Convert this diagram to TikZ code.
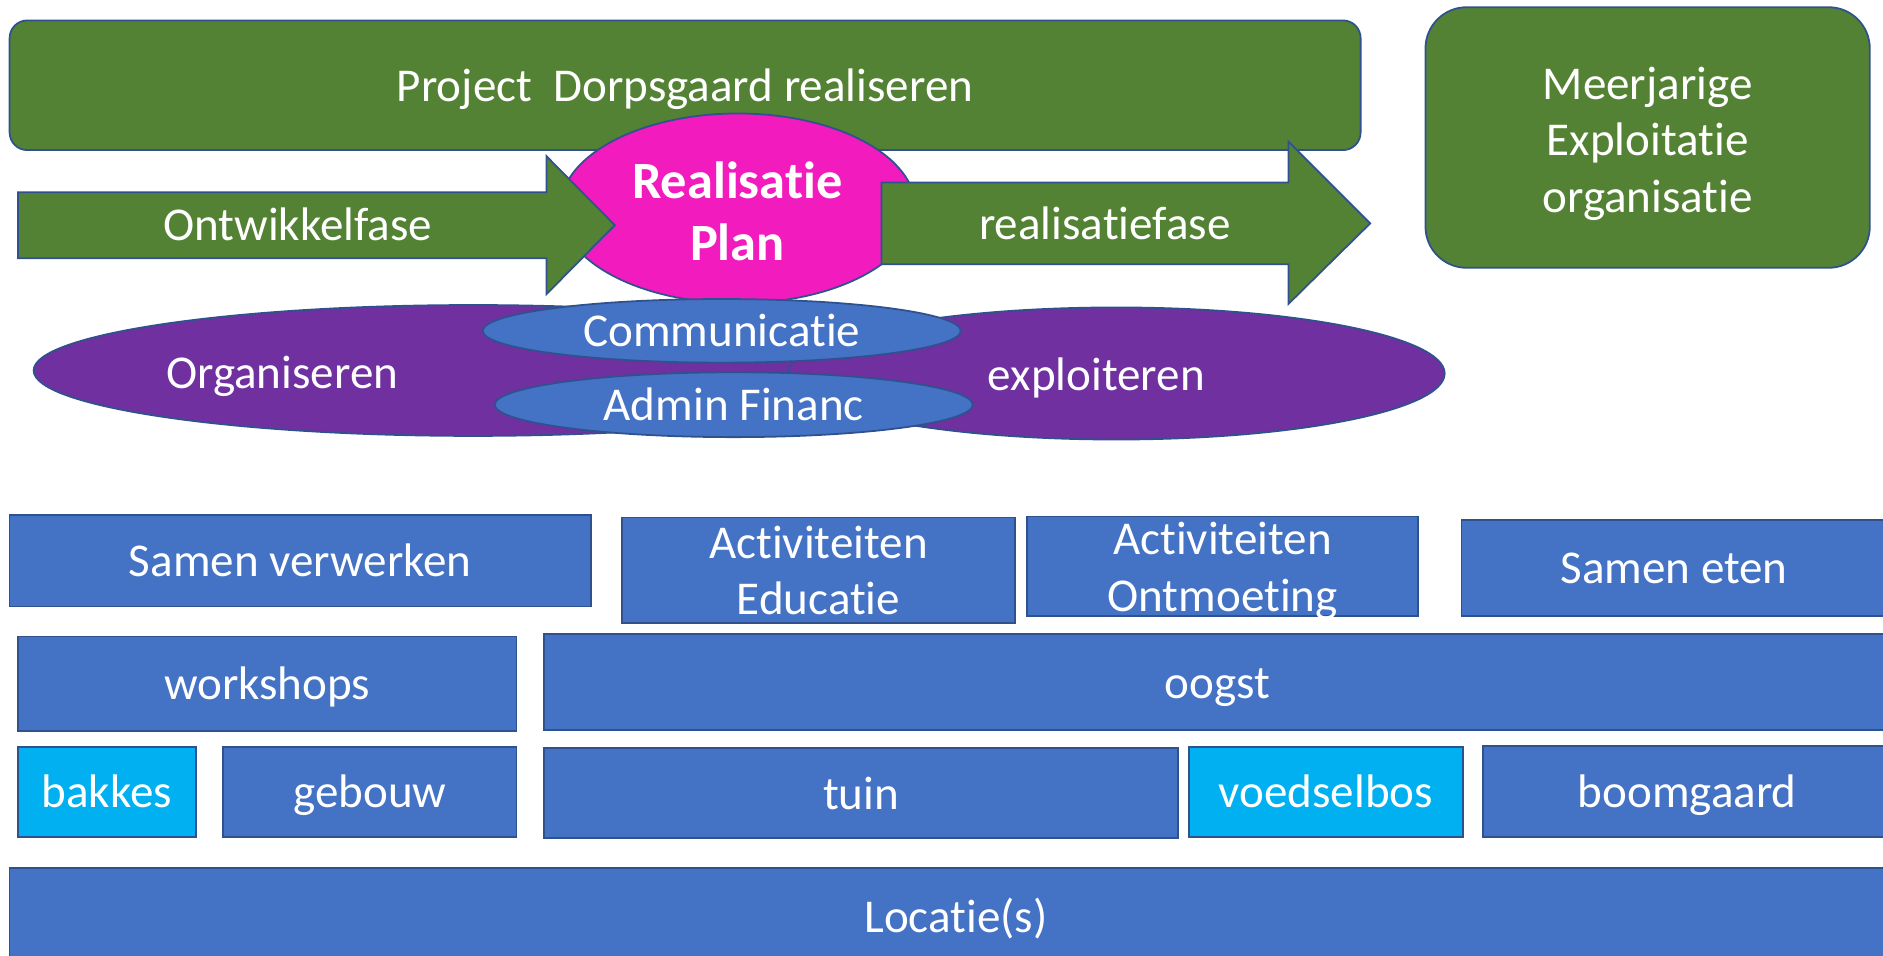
\documentclass[tikz,border=0pt]{standalone}
\usepackage{fontspec}
\setmainfont{Carlito}[Ligatures={NoCommon,NoContextual}]
\usetikzlibrary{shapes.geometric}
\definecolor{pgreen}{HTML}{548235}
\definecolor{pblue}{HTML}{4472C4}
\definecolor{pedge}{HTML}{2F528F}
\definecolor{pcyan}{HTML}{00B0F0}
\definecolor{ppurple}{HTML}{7030A0}
\definecolor{pmag}{HTML}{F21BBE}
\def\U{0.6122pt}
\begin{document}
\begin{tikzpicture}[x=0.6122pt,y=-0.6122pt,
  base/.style={draw=pedge, line width=0.9pt, text=white, inner sep=0pt,
    font=\fontsize{24}{28.8}\selectfont},
  blk/.style={base, rectangle, fill=pblue, text height=16.2pt, text depth=0pt},
  cyanblk/.style={blk, fill=pcyan},
  ell/.style={base, ellipse},
  txt/.style={text=white, inner sep=0pt, font=\fontsize{24}{28.8}\selectfont,
    text height=16.2pt, text depth=0pt},
  mtxt/.style={text=white, inner sep=0pt, align=center,
    font=\fontsize{24}{28.8}\selectfont},
  greenshape/.style={draw=pedge, line width=0.9pt, fill=pgreen}
]
\useasboundingbox (0,0) rectangle (1568,796);

% top project box
\node[base, rectangle, rounded corners=9pt, fill=pgreen, text height=16.2pt, text depth=0pt,
  minimum width=1125*\U, minimum height=108*\U] (proj) at (570.5,71) {Project\ \ Dorpsgaard realiseren};

% exploitation box
\node[base, rectangle, rounded corners=21pt, fill=pgreen,
  minimum width=370*\U, minimum height=217*\U] (meer) at (1372,114.5) {};
\node[mtxt] (meert) at (1372,119.5) {Meerjarige\\Exploitatie\\organisatie};

% realisatie plan
\node[ell, fill=pmag, minimum width=296*\U, minimum height=158*\U] (rp) at (614.5,173.5) {};
\node[mtxt, font=\bfseries\fontsize{26.7}{31.8}\selectfont] (rpt) at (614,176) {Realisatie\\Plan};

% arrows
\draw[greenshape] (15,160) -- (455,160) -- (455,130) -- (512,187.5) -- (455,245) -- (455,215) -- (15,215) -- cycle;
\node[txt] (ontw) at (248,187) {Ontwikkelfase};
\draw[greenshape] (734,152) -- (1073,152) -- (1073,118) -- (1141,186) -- (1073,253) -- (1073,220) -- (734,220) -- cycle;
\node[txt] (realf) at (920,186) {realisatiefase};

% purple ellipses
\node[ell, fill=ppurple, minimum width=732*\U, minimum height=109*\U] (org) at (394,308.5) {};
\node[ell, fill=ppurple, minimum width=547*\U, minimum height=110*\U] (expl) at (929.5,311) {};
\node[txt] (orgt) at (235,310) {Organiseren};
\node[txt] (explt) at (913,312) {exploiteren};

% blue ellipses
\node[ell, fill=pblue, minimum width=398*\U, minimum height=53*\U] (comm) at (601,275.5) {};
\node[txt] (commt) at (601,275.5) {Communicatie};
\node[ell, fill=pblue, minimum width=398*\U, minimum height=54*\U] (adm) at (611,337) {};
\node[txt] (admt) at (611,337) {Admin Financ};

% row 1
\node[blk, minimum width=484*\U, minimum height=76*\U] (sv) at (250,467) {Samen verwerken};
\node[blk, minimum width=327*\U, minimum height=88*\U] (ae) at (681.5,475) {};
\node[mtxt] (aet) at (681.5,475) {Activiteiten\\Educatie};
\node[blk, minimum width=326*\U, minimum height=83*\U] (ao) at (1018,471.5) {};
\node[mtxt] (aot) at (1018,475.5) {Activiteiten\\Ontmoeting};
\node[blk, minimum width=354*\U, minimum height=80*\U] (se) at (1394,473) {Samen eten};

% row 2
\node[blk, minimum width=415*\U, minimum height=79*\U] (ws) at (222.5,569.5) {workshops};
\node[blk, minimum width=1122*\U, minimum height=80*\U] (oo) at (1014,568) {oogst};

% row 3
\node[cyanblk, minimum width=148*\U, minimum height=75*\U] (bak) at (89,659.5) {bakkes};
\node[blk, minimum width=244*\U, minimum height=75*\U] (geb) at (308,659.5) {gebouw};
\node[blk, minimum width=528*\U, minimum height=75*\U] (tuin) at (717,660.5) {tuin};
\node[cyanblk, minimum width=228*\U, minimum height=75*\U] (vb) at (1104,659.5) {voedselbos};
\node[blk, minimum width=340*\U, minimum height=76*\U] (bg) at (1405,659) {boomgaard};

% location
\node[blk, minimum width=1576*\U, minimum height=80*\U] (loc) at (796,763) {Locatie(s)};
\end{tikzpicture}
\end{document}
